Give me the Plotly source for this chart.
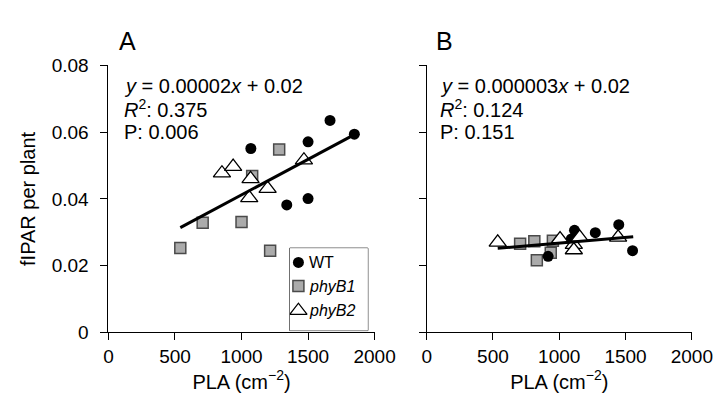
import plotly.graph_objects as go

# ---- data ----
# Panel A
wt_a_x = [1070, 1340, 1500, 1500, 1665, 1848]
wt_a_y = [0.0551, 0.0382, 0.0401, 0.0571, 0.0635, 0.0594]
b1_a_x = [540, 708, 1000, 1080, 1215, 1283]
b1_a_y = [0.0253, 0.0329, 0.0331, 0.0469, 0.0245, 0.0548]
b2_a_x = [853, 937, 1068, 1058, 1196, 1469]
b2_a_y = [0.0477, 0.0497, 0.0460, 0.0403, 0.0431, 0.0516]
fit_a_x = [540, 1830]
fit_a_y = [0.0314, 0.0589]

# Panel B
wt_b_x = [916, 1091, 1115, 1272, 1449, 1553]
wt_b_y = [0.0228, 0.0280, 0.0306, 0.0299, 0.0323, 0.0245]
b1_b_x = [705, 812, 831, 936, 952]
b1_b_y = [0.0266, 0.0273, 0.0216, 0.0239, 0.0275]
b2_b_x = [536, 1006, 1110, 1110, 1154, 1444]
b2_b_y = [0.0270, 0.0280, 0.0263, 0.0247, 0.0285, 0.0285]
fit_b_x = [536, 1558]
fit_b_y = [0.0252, 0.0287]

x_ticks = [0, 500, 1000, 1500, 2000]
y_ticks = [0, 0.02, 0.04, 0.06, 0.08]
y_ticktext = ["0", "0.02", "0.04", "0.06", "0.08"]

legend_labels = ["WT", "<i>phyB1</i>", "<i>phyB2</i>"]

stats_a = ["<i>y</i> = 0.00002<i>x</i> + 0.02", "<i>R</i><sup>2</sup>: 0.375", "P: 0.006"]
stats_b = ["<i>y</i> = 0.000003<i>x</i> + 0.02", "<i>R</i><sup>2</sup>: 0.124", "P: 0.151"]

FONT = "Liberation Sans, Arial, sans-serif"
W, H = 727, 398

fig = go.Figure()

circle = dict(symbol="circle", size=11, color="black", line=dict(width=0))
square = dict(symbol="square", size=11, color="#ababab", line=dict(width=1.5, color="#4a4a4a"))
tri = dict(symbol="triangle-up", size=15, color="white", line=dict(width=1.3, color="black"))
styles = [circle, square, tri]

def add_panel(xa, ya, wx, wy, b1x, b1y, b2x, b2y, fx, fy):
    fig.add_trace(go.Scatter(x=b1x, y=b1y, mode="markers", marker=square, name="phyB1",
                             showlegend=False, xaxis=xa, yaxis=ya))
    fig.add_trace(go.Scatter(x=wx, y=wy, mode="markers", marker=circle, name="WT",
                             showlegend=False, xaxis=xa, yaxis=ya))
    fig.add_trace(go.Scatter(x=b2x, y=b2y, mode="markers", marker=tri, name="phyB2",
                             showlegend=False, xaxis=xa, yaxis=ya))
    fig.add_trace(go.Scatter(x=fx, y=fy, mode="lines", line=dict(color="black", width=3),
                             showlegend=False, xaxis=xa, yaxis=ya))

add_panel("x", "y", wt_a_x, wt_a_y, b1_a_x, b1_a_y, b2_a_x, b2_a_y, fit_a_x, fit_a_y)
add_panel("x2", "y2", wt_b_x, wt_b_y, b1_b_x, b1_b_y, b2_b_x, b2_b_y, fit_b_x, fit_b_y)

# ---- manual legend box (pixel-based helper axes) ----
LX0, LX1, LY0, LY1 = 287, 368, 243, 330
item_rows = [258, 283, 309]
for lab, st, row in zip(legend_labels, styles, item_rows):
    fig.add_trace(go.Scatter(x=[296], y=[row], mode="markers", marker=st, showlegend=False,
                             hoverinfo="skip", xaxis="x3", yaxis="y3"))
    fig.add_annotation(text=lab, x=305, y=row, xref="x3", yref="y3", showarrow=False,
                       xanchor="left", yanchor="middle", font=dict(size=16))

ydom = [1 - 332 / H, 1 - 50 / H]
common_x = dict(range=[0, 2000], tickvals=x_ticks, ticks="outside", ticklen=7, tickwidth=1,
                tickcolor="black", showline=True, linecolor="black", linewidth=1,
                showgrid=False, zeroline=False, tickfont=dict(size=19, color="black"),
                title=dict(text="PLA (cm<sup>−2</sup>)", font=dict(size=20, color="black"), standoff=8))
common_y = dict(range=[0, 0.08], tickvals=y_ticks, ticktext=y_ticktext, ticks="outside", ticklen=7,
                tickwidth=1, tickcolor="black", showline=True, linecolor="black", linewidth=1,
                showgrid=False, zeroline=False, tickfont=dict(size=19, color="black"))

fig.update_layout(
    width=W, height=H,
    margin=dict(l=0, r=0, t=0, b=0),
    paper_bgcolor="white", plot_bgcolor="white",
    font=dict(family=FONT, color="black"),
    xaxis=dict(domain=[99 / W, 375 / W], anchor="y", **common_x),
    yaxis=dict(domain=ydom, anchor="x", ticklabelstandoff=8,
               title=dict(text="fIPAR per plant", font=dict(size=20, color="black"), standoff=10),
               **common_y),
    xaxis2=dict(domain=[429 / W, 704 / W], anchor="y2", **common_x),
    yaxis2=dict(domain=ydom, anchor="x2", showticklabels=False, **common_y),
    xaxis3=dict(domain=[LX0 / W, LX1 / W], range=[LX0, LX1], visible=False, anchor="y3",
                fixedrange=True),
    yaxis3=dict(domain=[1 - LY1 / H, 1 - LY0 / H], range=[LY1, LY0], visible=False, anchor="x3",
                fixedrange=True),
    showlegend=False,
)

fig.add_shape(type="rect", xref="paper", yref="paper",
              x0=LX0 / W, x1=LX1 / W, y0=1 - LY1 / H, y1=1 - LY0 / H,
              line=dict(color="black", width=1), fillcolor="rgba(0,0,0,0)", layer="below")

# panel letters
fig.add_annotation(text="A", x=119 / W, y=1 - 24 / H, xref="paper", yref="paper",
                   showarrow=False, font=dict(size=25), xanchor="center", yanchor="middle")
fig.add_annotation(text="B", x=447 / W, y=1 - 24 / H, xref="paper", yref="paper",
                   showarrow=False, font=dict(size=25), xanchor="center", yanchor="middle")

# regression statistics
for stats, xl in ((stats_a, 113), (stats_b, 441)):
    for i, t in enumerate(stats):
        fig.add_annotation(text=t, x=xl / W, y=1 - (72 + 24 * i) / H, xref="paper", yref="paper",
                           showarrow=False, font=dict(size=20), xanchor="left", yanchor="middle")

fig.write_html("out.html")
